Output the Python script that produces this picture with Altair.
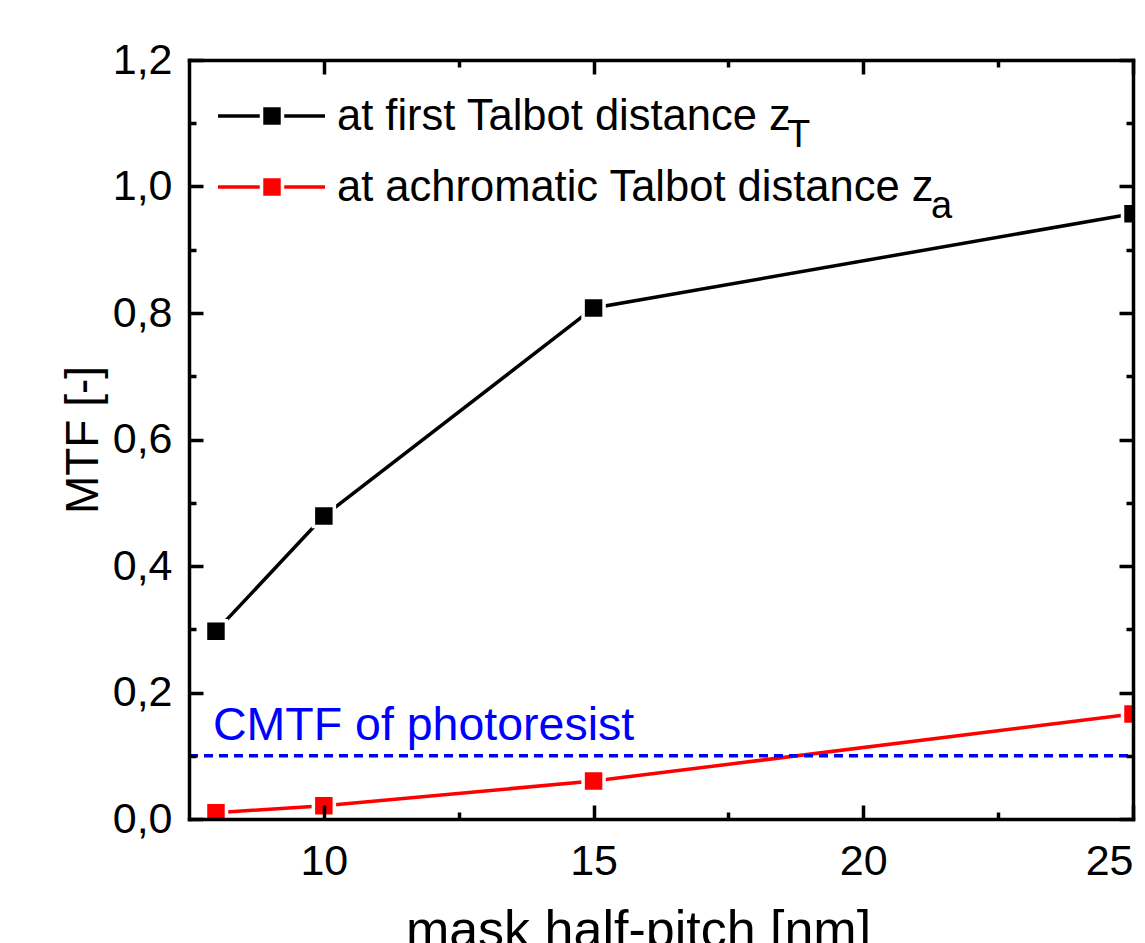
import altair as alt
import pandas as pd

# ---- data ----
half_pitch = [8, 10, 15, 25]
mtf_talbot = [0.297, 0.479, 0.808, 0.957]
mtf_achromatic = [0.010, 0.021, 0.060, 0.166]
cmtf_value = 0.1
series_names = ["at first Talbot distance z_T", "at achromatic Talbot distance z_a"]
series_colors = ["#000000", "#ff0000"]
legend_main = ["at first Talbot distance z", "at achromatic Talbot distance z"]
legend_sub = ["T", "a"]
cmtf_label = ["CMTF of photoresist"]
x_major = [10, 15, 20, 25]
x_minor = [12.5, 17.5, 22.5]
y_major = [0, 0.2, 0.4, 0.6, 0.8, 1.0, 1.2]
y_minor = [0.1, 0.3, 0.5, 0.7, 0.9, 1.1]
x_domain = [7.5, 25]
y_domain = [0, 1.2]

W, H = 944, 759
FONT = "Liberation Sans"

df = pd.DataFrame({
    "x": half_pitch * 2,
    "y": mtf_talbot + mtf_achromatic,
    "series": [series_names[0]] * len(half_pitch) + [series_names[1]] * len(half_pitch),
})
rule_df = pd.DataFrame({"x": [x_domain[0]], "x2": [x_domain[1]], "y": [cmtf_value]})
text_df = pd.DataFrame({"x": [x_domain[0]], "y": [cmtf_value], "label": cmtf_label})
one = pd.DataFrame({"k": [0]})

xs = alt.Scale(domain=x_domain, nice=False, zero=False)
ys = alt.Scale(domain=y_domain, nice=False, zero=False)
cscale = alt.Scale(domain=series_names, range=series_colors)


def tick_axis(orient, offset, values, size, domain):
    return alt.Axis(orient=orient, offset=offset, values=values, tickSize=size,
                    tickWidth=3.5, tickColor="black", labels=False, title="",
                    domain=domain, domainWidth=3.5, domainColor="black",
                    domainCap="square", grid=False, zindex=2)


label_x = alt.Axis(orient="bottom", values=x_major, ticks=False, tickSize=0, domain=False,
                   grid=False, format="d", labelFont=FONT, labelFontSize=43,
                   labelColor="black", labelPadding=21,
                   title="mask half-pitch [nm]", titleFont=FONT, titleFontSize=52,
                   titleFontWeight="normal", titleColor="black", titleX=449, titleY=127,
                   titleAlign="center", titleBaseline="alphabetic", titleAngle=0)
label_y = alt.Axis(orient="left", values=y_major, ticks=False, tickSize=0, domain=False,
                   grid=False, labelExpr="replace(format(datum.value, '.1f'), '.', ',')",
                   labelFont=FONT, labelFontSize=43, labelColor="black", labelPadding=17,
                   title="MTF [-]", titleFont=FONT, titleFontSize=46,
                   titleFontWeight="normal", titleColor="black", titleX=-92, titleY=H / 2,
                   titleAlign="center", titleBaseline="alphabetic", titleAngle=270)

lines = alt.Chart(df).mark_line(strokeWidth=3.5, clip=True).encode(
    x=alt.X("x:Q", scale=xs, axis=label_x),
    y=alt.Y("y:Q", scale=ys, axis=label_y),
    color=alt.Color("series:N", scale=cscale, legend=None),
)

points = alt.Chart(df).mark_point(shape="square", filled=True, size=440, stroke="white",
                                  strokeWidth=3.5, opacity=1, clip=True).encode(
    x=alt.X("x:Q", scale=xs, axis=tick_axis("top", -H, x_major, 14, True)),
    y=alt.Y("y:Q", scale=ys, axis=tick_axis("right", -W, y_major, 14, True)),
    fill=alt.Fill("series:N", scale=cscale, legend=None),
)

rule = alt.Chart(rule_df).mark_rule(color="#0000ff", strokeWidth=3.5, strokeDash=[9, 6]).encode(
    x=alt.X("x:Q", scale=xs, axis=tick_axis("top", -H, x_minor, 7, False)),
    x2="x2:Q",
    y=alt.Y("y:Q", scale=ys, axis=tick_axis("right", -W, y_minor, 7, False)),
)

cmtf_text = alt.Chart(text_df).mark_text(align="left", baseline="alphabetic", dx=24, dy=-16,
                                         font=FONT, fontSize=46.5, color="#0000ff").encode(
    x=alt.X("x:Q", scale=xs, axis=tick_axis("bottom", -H, x_major, 14, True)),
    y=alt.Y("y:Q", scale=ys, axis=tick_axis("left", -W, y_major, 14, True)),
    text="label:N",
)

minor_top_right = alt.Chart(df).mark_point(opacity=0).encode(
    x=alt.X("x:Q", scale=xs, axis=tick_axis("bottom", -H, x_minor, 7, False)),
    y=alt.Y("y:Q", scale=ys, axis=tick_axis("left", -W, y_minor, 7, False)),
)

legend_layers = []
leg_y = [56, 127]
sub_x = [598, 742]
for i in range(2):
    ly = leg_y[i]
    col = series_colors[i]
    legend_layers.append(alt.Chart(one).mark_rule(color=col, strokeWidth=3.5).encode(
        x=alt.value(29), x2=alt.value(136), y=alt.value(ly)))
    legend_layers.append(alt.Chart(one).mark_point(shape="square", filled=True, size=440,
                                                   fill=col, stroke="white", strokeWidth=3.5,
                                                   opacity=1).encode(
        x=alt.value(83), y=alt.value(ly)))
    legend_layers.append(alt.Chart(one).mark_text(align="left", baseline="alphabetic",
                                                  font=FONT, fontSize=43.5, color="black").encode(
        x=alt.value(148), y=alt.value(ly + 14), text=alt.value(legend_main[i])))
    legend_layers.append(alt.Chart(one).mark_text(align="left", baseline="alphabetic",
                                                  font=FONT, fontSize=38, color="black").encode(
        x=alt.value(sub_x[i]), y=alt.value(ly + 31), text=alt.value(legend_sub[i])))

chart = alt.layer(lines, rule, points, cmtf_text, minor_top_right, *legend_layers).resolve_axis(
    x="independent", y="independent"
).properties(
    width=W, height=H,
    padding={"left": 189, "top": 60, "right": 12, "bottom": 124},
    autosize=alt.AutoSizeParams(type="none"),
    background="white",
).configure_view(strokeWidth=0)

chart.save("out.html", embed_options={"renderer": "svg", "actions": False})
